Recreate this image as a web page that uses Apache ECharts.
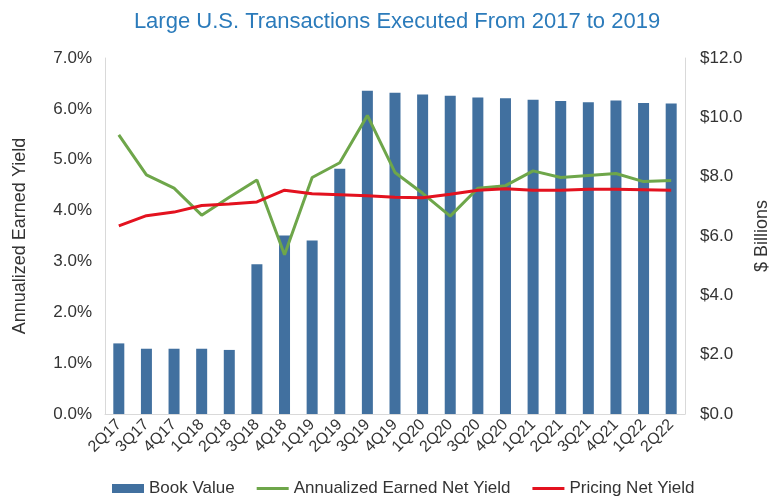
<!DOCTYPE html>
<html>
<head>
<meta charset="utf-8">
<script src="https://cdn.jsdelivr.net/npm/echarts@6/dist/echarts.min.js"></script>
<style>
  html, body { margin: 0; padding: 0; background: #fff; }
  #chart { width: 770px; height: 502px; }
</style>
</head>
<body>
<div id="chart"></div>
<script>
var quarters = ['2Q17', '3Q17', '4Q17', '1Q18', '2Q18', '3Q18', '4Q18', '1Q19', '2Q19', '3Q19', '4Q19',
  '1Q20', '2Q20', '3Q20', '4Q20', '1Q21', '2Q21', '3Q21', '4Q21', '1Q22', '2Q22'];
// $ billions
var bookValue = [2.38, 2.2, 2.2, 2.2, 2.16, 5.05, 6.02, 5.85, 8.27, 10.9, 10.83,
  10.77, 10.73, 10.67, 10.64, 10.59, 10.55, 10.51, 10.57, 10.48, 10.47];
// percent
var earnedYield = [5.49, 4.7, 4.44, 3.91, 4.26, 4.6, 3.13, 4.65, 4.94, 5.87, 4.75,
  4.34, 3.89, 4.44, 4.49, 4.78, 4.65, 4.69, 4.73, 4.57, 4.59];
var pricingYield = [3.7, 3.9, 3.97, 4.1, 4.13, 4.17, 4.4, 4.33, 4.31, 4.29, 4.26,
  4.25, 4.32, 4.4, 4.43, 4.4, 4.4, 4.42, 4.42, 4.41, 4.4];

var myChart = echarts.init(document.getElementById('chart'));
var font = 'Liberation Sans, Arial, sans-serif';
var lineIcon = 'path://M0,0 L30,0 L30,3 L0,3 Z';
var option = {
  animation: false,
  textStyle: { fontFamily: font },
  title: {
    text: 'Large U.S. Transactions Executed From 2017 to 2019',
    left: 392,
    textAlign: 'center',
    top: 6,
    textStyle: { color: '#2b7bbb', fontSize: 22, fontWeight: 'normal', fontFamily: font }
  },
  legend: {
    bottom: 0,
    left: 107,
    itemGap: 22,
    itemWidth: 32,
    itemHeight: 9,
    textStyle: { color: '#333', fontSize: 17, fontFamily: font },
    data: [
      { name: 'Book Value', icon: 'rect' },
      { name: 'Annualized Earned Net Yield', icon: lineIcon, itemHeight: 3 },
      { name: 'Pricing Net Yield', icon: lineIcon, itemHeight: 3 }
    ]
  },
  grid: { left: 105, right: 85, top: 58, bottom: 88, outerBoundsMode: 'none', containLabel: false },
  xAxis: {
    type: 'category',
    data: quarters,
    axisLine: { lineStyle: { color: '#d9d9d9' } },
    axisTick: { show: false },
    axisLabel: { rotate: 45, color: '#333', fontSize: 16, margin: 8, interval: 0 }
  },
  yAxis: [{
    type: 'value',
    min: 0,
    max: 7,
    interval: 1,
    name: 'Annualized Earned Yield',
    nameLocation: 'middle',
    nameRotate: 90,
    nameGap: 76,
    nameTextStyle: { color: '#333', fontSize: 18, fontFamily: font },
    axisLine: { show: true, lineStyle: { color: '#d9d9d9' } },
    axisTick: { show: false },
    splitLine: { show: false },
    axisLabel: {
      color: '#333', fontSize: 17, margin: 13,
      formatter: function(v) { return v.toFixed(1) + '%'; }
    }
  }, {
    type: 'value',
    min: 0,
    max: 12,
    interval: 2,
    name: '$ Billions',
    nameLocation: 'middle',
    nameRotate: 90,
    nameGap: 66,
    nameTextStyle: { color: '#333', fontSize: 18, fontFamily: font },
    axisLine: { show: true, lineStyle: { color: '#d9d9d9' } },
    axisTick: { show: false },
    splitLine: { show: false },
    axisLabel: {
      color: '#333', fontSize: 17, margin: 15,
      formatter: function(v) { return '$' + v.toFixed(1); }
    }
  }],
  series: [{
    name: 'Book Value',
    type: 'bar',
    yAxisIndex: 1,
    barWidth: 11,
    itemStyle: { color: '#41709f' },
    data: bookValue
  }, {
    name: 'Annualized Earned Net Yield',
    type: 'line',
    yAxisIndex: 0,
    symbol: 'none',
    lineStyle: { color: '#6ea64a', width: 3 },
    itemStyle: { color: '#6ea64a' },
    data: earnedYield
  }, {
    name: 'Pricing Net Yield',
    type: 'line',
    yAxisIndex: 0,
    symbol: 'none',
    lineStyle: { color: '#e3121f', width: 3 },
    itemStyle: { color: '#e3121f' },
    data: pricingYield
  }]
};
myChart.setOption(option);
</script>
</body>
</html>
